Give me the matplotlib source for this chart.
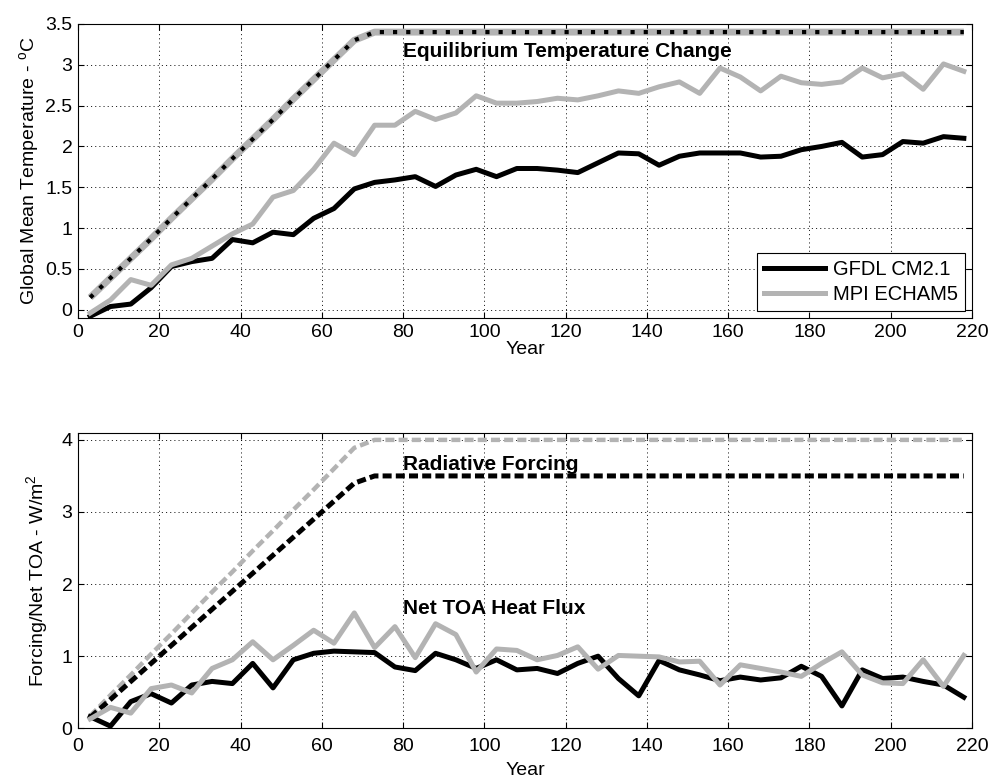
import matplotlib

matplotlib.use("Agg")
import matplotlib.pyplot as plt

plt.rcParams["font.family"] = ["Liberation Sans", "DejaVu Sans"]
plt.rcParams["mathtext.fontset"] = "custom"
plt.rcParams["mathtext.rm"] = "Liberation Sans"
plt.rcParams["mathtext.it"] = "Liberation Sans"
plt.rcParams["lines.scale_dashes"] = False

# 5-year mean centres
years = [3, 8, 13, 18, 23, 28, 33, 38, 43, 48,
         53, 58, 63, 68, 73, 78, 83, 88, 93, 98,
         103, 108, 113, 118, 123, 128, 133, 138, 143, 148,
         153, 158, 163, 168, 173, 178, 183, 188, 193, 198,
         203, 208, 213, 218]

# top panel: global mean temperature (deg C)
gfdl_temp = [-0.08, 0.04, 0.07, 0.27, 0.53, 0.59, 0.63, 0.86, 0.82, 0.95,
             0.92, 1.12, 1.24, 1.48, 1.56, 1.59, 1.63, 1.51, 1.65, 1.72,
             1.63, 1.73, 1.73, 1.71, 1.68, 1.80, 1.92, 1.91, 1.77, 1.88,
             1.92, 1.92, 1.92, 1.87, 1.88, 1.96, 2.00, 2.05, 1.87, 1.90,
             2.06, 2.04, 2.12, 2.10]
mpi_temp = [-0.04, 0.12, 0.37, 0.30, 0.55, 0.63, 0.78, 0.93, 1.05, 1.38,
            1.46, 1.72, 2.04, 1.90, 2.26, 2.26, 2.43, 2.33, 2.41, 2.62,
            2.53, 2.53, 2.55, 2.59, 2.57, 2.62, 2.68, 2.65, 2.73, 2.79,
            2.65, 2.96, 2.85, 2.68, 2.86, 2.78, 2.76, 2.79, 2.96, 2.84,
            2.89, 2.70, 3.01, 2.92]
equil_temp = [0.15, 0.39, 0.63, 0.87, 1.12, 1.36, 1.60, 1.85, 2.09, 2.33,
              2.58, 2.82, 3.06, 3.30, 3.40, 3.40, 3.40, 3.40, 3.40, 3.40,
              3.40, 3.40, 3.40, 3.40, 3.40, 3.40, 3.40, 3.40, 3.40, 3.40,
              3.40, 3.40, 3.40, 3.40, 3.40, 3.40, 3.40, 3.40, 3.40, 3.40,
              3.40, 3.40, 3.40, 3.40]

# bottom panel: forcing and net TOA flux (W/m2)
gfdl_forcing = [0.15, 0.40, 0.65, 0.90, 1.15, 1.40, 1.65, 1.90, 2.15, 2.40,
                2.65, 2.90, 3.15, 3.40, 3.50, 3.50, 3.50, 3.50, 3.50, 3.50,
                3.50, 3.50, 3.50, 3.50, 3.50, 3.50, 3.50, 3.50, 3.50, 3.50,
                3.50, 3.50, 3.50, 3.50, 3.50, 3.50, 3.50, 3.50, 3.50, 3.50,
                3.50, 3.50, 3.50, 3.50]
mpi_forcing = [0.17, 0.46, 0.74, 1.03, 1.31, 1.60, 1.89, 2.17, 2.46, 2.74,
               3.03, 3.31, 3.60, 3.89, 4.00, 4.00, 4.00, 4.00, 4.00, 4.00,
               4.00, 4.00, 4.00, 4.00, 4.00, 4.00, 4.00, 4.00, 4.00, 4.00,
               4.00, 4.00, 4.00, 4.00, 4.00, 4.00, 4.00, 4.00, 4.00, 4.00,
               4.00, 4.00, 4.00, 4.00]
gfdl_toa = [0.16, 0.03, 0.37, 0.48, 0.35, 0.60, 0.65, 0.62, 0.90, 0.56,
            0.95, 1.04, 1.07, 1.06, 1.05, 0.85, 0.80, 1.04, 0.95, 0.83,
            0.95, 0.81, 0.83, 0.76, 0.90, 1.00, 0.69, 0.45, 0.94, 0.81,
            0.74, 0.66, 0.71, 0.67, 0.70, 0.86, 0.72, 0.31, 0.81, 0.69,
            0.71, 0.65, 0.60, 0.43]
mpi_toa = [0.13, 0.29, 0.21, 0.55, 0.60, 0.49, 0.83, 0.95, 1.20, 0.95,
           1.15, 1.36, 1.18, 1.60, 1.12, 1.41, 0.98, 1.45, 1.30, 0.78,
           1.10, 1.08, 0.95, 1.01, 1.13, 0.82, 1.01, 1.00, 0.99, 0.92,
           0.93, 0.60, 0.88, 0.83, 0.78, 0.72, 0.90, 1.06, 0.74, 0.63,
           0.62, 0.95, 0.58, 1.01]

x_ticks = [0, 20, 40, 60, 80, 100, 120, 140, 160, 180, 200, 220]
temp_ticks = [0, 0.5, 1, 1.5, 2, 2.5, 3, 3.5]
temp_labels = ["0", "0.5", "1", "1.5", "2", "2.5", "3", "3.5"]
flux_ticks = [0, 1, 2, 3, 4]

GREY = "0.7"
FS = 14
NOTE_FS = 15


def style_axes(ax, xpad):
    ax.set_xlim(0, 220)
    ax.set_xticks(x_ticks)
    ax.grid(True, linestyle=(0, (0.8, 2.2)), color="k", linewidth=0.6)
    ax.set_axisbelow(True)
    ax.tick_params(direction="in", top=True, right=True, length=4,
                   width=0.8, labelsize=FS, pad=4)
    ax.tick_params(axis="x", pad=xpad)
    for spine in ax.spines.values():
        spine.set_linewidth(0.8)


fig = plt.figure(figsize=(9.92, 7.82), dpi=100)
ax1 = fig.add_axes([0.0786, 0.5934, 0.9012, 0.376])
ax2 = fig.add_axes([0.0786, 0.0687, 0.9012, 0.378])

# top panel
ax1.plot(years, equil_temp, color=GREY, linewidth=5, solid_capstyle="butt")
ax1.plot(years, equil_temp, color="k", linewidth=3, linestyle=(0, (3, 6.5)))
ax1.plot(years, gfdl_temp, color="k", linewidth=3.6, label="GFDL CM2.1")
ax1.plot(years, mpi_temp, color=GREY, linewidth=3.6, label="MPI ECHAM5")
ax1.text(80, 3.1, "Equilibrium Temperature Change", fontsize=NOTE_FS,
         fontweight="bold", va="baseline")
style_axes(ax1, 4)
ax1.set_ylim(-0.1, 3.5)
ax1.set_yticks(temp_ticks)
ax1.set_yticklabels(temp_labels)
ax1.set_xlabel("Year", fontsize=FS, labelpad=0)
ax1.set_ylabel("Global Mean Temperature - $^{\\mathrm{o}}$C", fontsize=FS,
               labelpad=3)
ax1.legend(loc="lower right", fontsize=14.5, fancybox=False, framealpha=1,
           edgecolor="k", handlelength=3.0, borderaxespad=0.35,
           labelspacing=0.3, handletextpad=0.4,
           borderpad=0.35).get_frame().set_linewidth(0.8)

# bottom panel
ax2.plot(years, mpi_forcing, color=GREY, linewidth=3.2, linestyle=(0, (6.5, 3)))
ax2.plot(years, gfdl_forcing, color="k", linewidth=3.6, linestyle=(0, (6.5, 3)))
ax2.plot(years, gfdl_toa, color="k", linewidth=3.6)
ax2.plot(years, mpi_toa, color=GREY, linewidth=3.6)
ax2.text(80, 3.58, "Radiative Forcing", fontsize=NOTE_FS, fontweight="bold",
         va="baseline")
ax2.text(80, 1.59, "Net TOA Heat Flux", fontsize=NOTE_FS, fontweight="bold",
         va="baseline")
style_axes(ax2, 7)
ax2.set_ylim(0, 4.1)
ax2.set_yticks(flux_ticks)
ax2.set_xlabel("Year", fontsize=FS, labelpad=5)
ax2.set_ylabel("Forcing/Net TOA - W/m$^2$", fontsize=FS, labelpad=8)

fig.savefig("out.png", dpi=100)
plt.close(fig)
